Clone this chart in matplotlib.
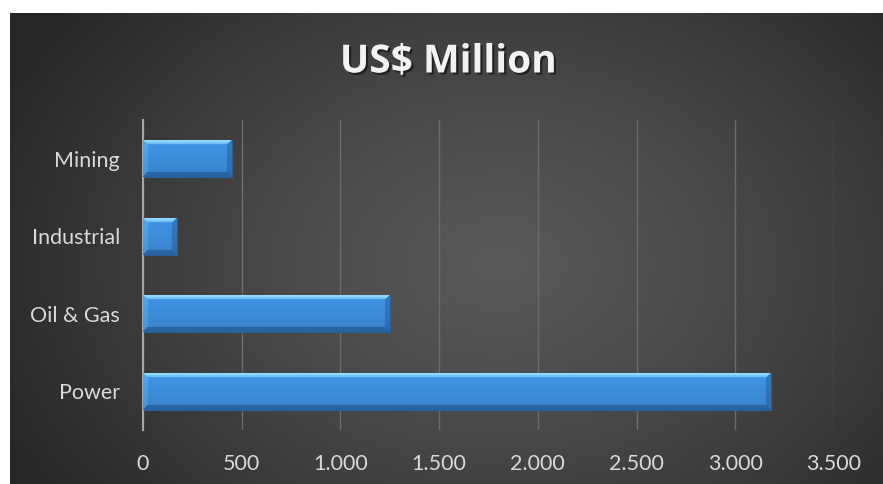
import numpy as np
import matplotlib
matplotlib.use("Agg")
import matplotlib.pyplot as plt
from matplotlib.ticker import FuncFormatter, MultipleLocator
import matplotlib.patheffects as pe

categories = ["Power", "Oil & Gas", "Industrial", "Mining"]
values = [3180, 1250, 170, 450]
title = "US$ Million"
xmax = 3500

FONT = ["Lato", "DejaVu Sans"]
TFONT = ["Open Sans", "DejaVu Sans"]
plt.rcParams["font.family"] = FONT

W, H = 883, 484
fig = plt.figure(figsize=(W / 100, H / 100), dpi=100)
fig.patch.set_facecolor("white")

# background with radial gradient (dark panel, white margin top/left)
bg = fig.add_axes([10 / W, -0.02, 1.02 - 10 / W, 1.02 - 13 / H])
bg.set_axis_off()
bg.set_facecolor("#262626")
ny, nx = 300, 600
yy, xx = np.mgrid[0:ny, 0:nx]
cx, cy = nx * 0.55, ny * 0.52
r = np.sqrt(((xx - cx) / (nx * 0.62)) ** 2 + ((yy - cy) / (ny * 0.85)) ** 2)
r = np.clip(r, 0, 1)
lo, hi = 0.15, 0.345
g = hi - (hi - lo) * r ** 1.3
bg.imshow(np.dstack([g, g, g]), aspect="auto", extent=[0, 1, 0, 1], interpolation="bilinear")
bg.set_xlim(0, 1)
bg.set_ylim(0, 1)

ax = fig.add_axes([143 / W, 1 - 430 / H, (834 - 143) / W, (430 - 120) / H])
ax.set_facecolor("none")
for s in ["top", "right", "bottom"]:
    ax.spines[s].set_visible(False)
ax.spines["left"].set_color("#a6a6a6")
ax.spines["left"].set_linewidth(1.5)

ypos = np.arange(len(categories))
bars = ax.barh(ypos, values, height=0.48, color="#3d8edb", zorder=2)
ax.set_xlim(0, xmax)
ax.set_ylim(-0.5, len(categories) - 0.5)
ax.xaxis.set_major_locator(MultipleLocator(500))
ax.xaxis.set_major_formatter(FuncFormatter(lambda v, p: f"{int(v):,}".replace(",", ".")))
ax.grid(axis="x", color="#6b6b6b", linewidth=1.0, zorder=0)
ax.set_axisbelow(True)
ax.set_yticks(ypos)
ax.set_yticklabels(categories)
ax.tick_params(axis="both", length=0, labelcolor="#d9d9d9", labelsize=15.5)
ax.tick_params(axis="x", pad=17)
ax.tick_params(axis="y", pad=16.5)

# bevel shading for each bar
fig.canvas.draw()
base = np.array([0x3d, 0x8e, 0xdb]) / 255
light = np.array([0x8c, 0xd0, 0xfa]) / 255
dark = np.array([0x1d, 0x4f, 0x85]) / 255
for b in bars:
    x0, y0 = b.get_x(), b.get_y()
    x1, y1 = x0 + b.get_width(), y0 + b.get_height()
    (px0, py0), (px1, py1) = ax.transData.transform([(x0, y0), (x1, y1)])
    pw, ph = max(int(px1 - px0), 2), max(int(py1 - py0), 2)
    img = np.tile(base, (ph, pw, 1)).astype(float)
    bev = 5
    rows = np.arange(ph)[:, None]
    cols = np.arange(pw)[None, :]
    top = (rows < bev) & (cols >= rows) & (cols < pw - rows)
    bot = (rows >= ph - bev) & (cols >= (ph - 1 - rows)) & (cols < pw - (ph - 1 - rows))
    left = (cols < bev) & ~top & ~bot
    right = (cols >= pw - bev) & ~top & ~bot
    img[top] = base * 0.35 + light * 0.65
    img[1:3][top[1:3]] = light
    img[bot] = base * 0.45 + dark * 0.55
    img[left] = base * 0.75 + light * 0.25
    img[right] = base * 0.6 + dark * 0.4
    shade = np.linspace(1.05, 0.93, ph)[:, None, None]
    img = np.clip(img * shade, 0, 1)
    im = ax.imshow(img, extent=[x0, x1, y0, y1], aspect="auto", zorder=3,
                   interpolation="bilinear", origin="upper")
    im.set_clip_path(b)
    b.set_edgecolor("#2a5f99")
    b.set_linewidth(0.8)
ax.set_xlim(0, xmax)
ax.set_ylim(-0.5, len(categories) - 0.5)
ax.set_aspect("auto")

fig.text(448 / W, 1 - 62 / H, title, ha="center", va="center", color="#f2f2f2",
         fontsize=28, fontweight="bold", family=TFONT,
         path_effects=[pe.withSimplePatchShadow(offset=(1.5, -1.5), shadow_rgbFace="black", alpha=0.5)])

fig.savefig("out.png", dpi=100)
